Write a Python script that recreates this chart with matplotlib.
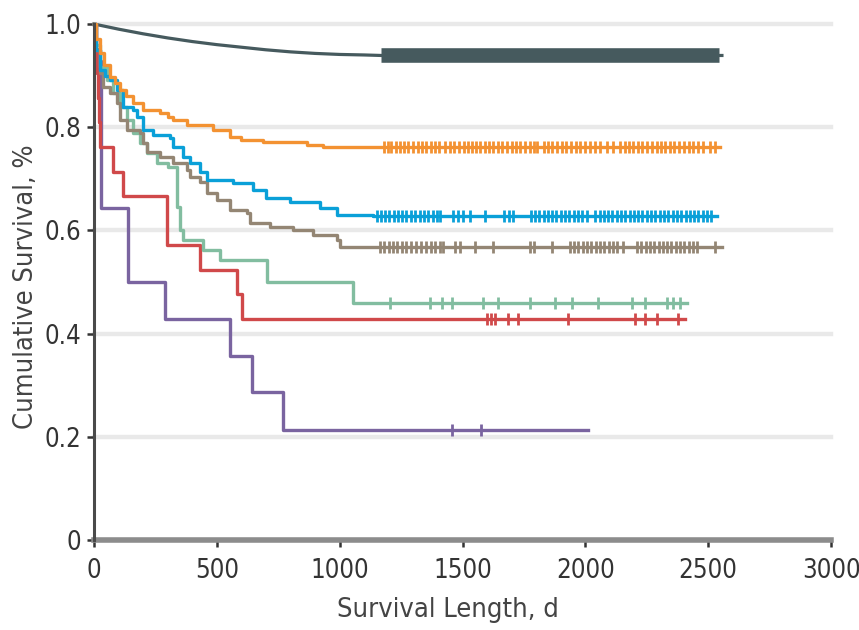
import numpy as np
import matplotlib
matplotlib.use("Agg")
import matplotlib.pyplot as plt
from matplotlib import font_manager as fm

# the reference uses a narrow sans face; pick whatever condensed regular face is installed
narrow = None
for f in fm.fontManager.ttflist:
    name = f.name + ' ' + str(f.stretch)
    if f.style == 'normal' and f.weight in (400, 'normal', 'regular') and \
            ('Narrow' in name or 'ondensed' in name or f.stretch in ('condensed', 'semi-condensed')):
        narrow = f
        break
if narrow is not None:
    fp = fm.FontProperties(fname=narrow.fname)
else:
    fp = fm.FontProperties(family='DejaVu Sans')

# Kaplan-Meier curves: drop times (days) and survival after the drop
slate_t = [0, 50, 100, 200, 300, 400, 500, 600, 700, 800, 900, 1000, 1100, 1170, 2556]
slate_s = [1.0, 0.995, 0.99, 0.981, 0.973, 0.966, 0.960, 0.955, 0.950, 0.946, 0.943, 0.941, 0.940, 0.939, 0.939]
slate_cens = (1170, 2545)   # solid band of censor marks

orange_t = [10, 24, 40, 65, 85, 106, 130, 159, 200, 269, 300, 322, 378, 485, 553, 600, 688, 866, 932]
orange_s = [0.97, 0.944, 0.92, 0.897, 0.885, 0.872, 0.86, 0.847, 0.833, 0.827, 0.82, 0.814, 0.804,
            0.795, 0.781, 0.776, 0.771, 0.765, 0.762]
orange_end = 2548
orange_cens = [1180, 1195, 1210, 1228, 1245, 1262, 1280, 1300, 1318, 1335, 1352, 1370, 1390, 1405,
               1430, 1448, 1465, 1485, 1505, 1522, 1540, 1555, 1572, 1590, 1608, 1625, 1645, 1662,
               1680, 1700, 1718, 1735, 1755, 1775, 1790, 1802, 1830, 1848, 1865, 1885, 1905, 1922,
               1940, 1960, 1980, 2000, 2020, 2040, 2058, 2088, 2114, 2142, 2160, 2178, 2195, 2215,
               2232, 2250, 2270, 2290, 2308, 2325, 2345, 2362, 2380, 2400, 2420, 2440, 2460, 2480,
               2508, 2528]

blue_t = [10, 24, 45, 65, 93, 118, 159, 175, 200, 240, 309, 322, 362, 391, 431, 460, 566, 648, 700,
          798, 920, 989, 1136]
blue_s = [0.95, 0.911, 0.90, 0.891, 0.872, 0.839, 0.833, 0.820, 0.795, 0.785, 0.779, 0.762, 0.742,
          0.730, 0.713, 0.698, 0.692, 0.678, 0.663, 0.655, 0.643, 0.630, 0.627]
blue_end = 2535
blue_cens = [1152, 1168, 1185, 1202, 1220, 1238, 1255, 1272, 1290, 1308, 1325, 1342, 1360, 1378,
             1395, 1408, 1462, 1482, 1503, 1530, 1591, 1668, 1688, 1705, 1778, 1795, 1812, 1830,
             1848, 1865, 1882, 1900, 1918, 1935, 1952, 1970, 1988, 2005, 2040, 2058, 2075, 2092,
             2110, 2128, 2145, 2162, 2180, 2198, 2215, 2232, 2250, 2268, 2285, 2302, 2320, 2338,
             2355, 2372, 2390, 2408, 2425, 2442, 2460, 2478, 2495, 2512]

brown_t = [5, 24, 37, 65, 93, 106, 134, 187, 200, 216, 269, 322, 378, 391, 431, 460, 501, 553, 623,
           635, 716, 810, 892, 989, 1001]
brown_s = [0.95, 0.905, 0.878, 0.866, 0.847, 0.814, 0.795, 0.788, 0.769, 0.752, 0.742, 0.730, 0.717,
           0.704, 0.694, 0.672, 0.659, 0.640, 0.634, 0.614, 0.607, 0.601, 0.591, 0.581, 0.568]
brown_end = 2556
brown_cens = [1165, 1182, 1200, 1218, 1235, 1252, 1270, 1290, 1310, 1330, 1350, 1370, 1390, 1408,
              1422, 1470, 1490, 1551, 1624, 1775, 1790, 1864, 1938, 1955, 1972, 1990, 2008, 2025,
              2042, 2060, 2078, 2095, 2112, 2130, 2152, 2210, 2228, 2245, 2262, 2280, 2298, 2315,
              2332, 2350, 2368, 2385, 2402, 2420, 2438, 2454, 2527]

green_t = [5, 24, 53, 77, 106, 134, 159, 187, 216, 256, 300, 338, 350, 362, 444, 513, 704, 1054]
green_s = [0.96, 0.917, 0.891, 0.866, 0.839, 0.814, 0.788, 0.769, 0.75, 0.730, 0.723, 0.646, 0.601,
           0.581, 0.562, 0.543, 0.500, 0.459]
green_end = 2413
green_cens = [1205, 1368, 1416, 1457, 1584, 1645, 1775, 1877, 1946, 2052, 2189, 2244, 2332, 2357, 2385]

red_t = [8, 12, 16, 20, 24, 77, 120, 297, 431, 582, 602]
red_s = [0.952, 0.905, 0.857, 0.81, 0.762, 0.714, 0.667, 0.571, 0.524, 0.476, 0.429]
red_end = 2405
red_cens = [1600, 1615, 1632, 1686, 1726, 1930, 2202, 2244, 2291, 2377]

purple_t = [8, 28, 139, 289, 553, 642, 770]
purple_s = [0.929, 0.643, 0.5, 0.429, 0.357, 0.286, 0.214]
purple_end = 2010
purple_cens = [1457, 1575]

curves = [
    (orange_t, orange_s, orange_end, orange_cens, '#f39232'),
    (blue_t, blue_s, blue_end, blue_cens, '#0aa0d8'),
    (brown_t, brown_s, brown_end, brown_cens, '#948674'),
    (green_t, green_s, green_end, green_cens, '#82bda0'),
    (red_t, red_s, red_end, red_cens, '#d0494a'),
    (purple_t, purple_s, purple_end, purple_cens, '#7a64a0'),
]

fig = plt.figure(figsize=(8.59, 6.3), dpi=100)
ax = fig.add_axes([94 / 859, 1 - 540 / 630, (831 - 94) / 859, (540 - 24) / 630])

for y in [0.2, 0.4, 0.6, 0.8, 1.0]:
    ax.axhline(y, color='#e9e9e9', lw=3.2, zorder=0, clip_on=False)

# smooth top curve and its dense censoring band
ax.plot(slate_t, slate_s, color='#465a5e', lw=2.3, zorder=3, clip_on=False)
ax.plot(slate_cens, [slate_s[-1]] * 2, color='#465a5e', lw=10.5, solid_capstyle='butt', zorder=3)

for t, s, end, cens, col in curves[::-1]:
    tt = np.r_[0, t, end]
    ss = np.r_[1.0, s, s[-1]]
    ax.step(tt, ss, where='post', color=col, lw=2.4, zorder=3, clip_on=False)
    idx = np.searchsorted(tt, cens, side='right') - 1
    ax.plot(cens, ss[idx], ls='none', marker='|', ms=8, mew=2.0, color=col, zorder=4)

ax.set_xlim(0, 3000)
ax.set_ylim(0, 1.0)
ax.set_xticks(range(0, 3001, 500))
ax.set_yticks([0, 0.2, 0.4, 0.6, 0.8, 1.0])
ax.set_yticklabels(['0', '0.2', '0.4', '0.6', '0.8', '1.0'])

for side in ['top', 'right']:
    ax.spines[side].set_visible(False)
ax.spines['left'].set_color('#4a4a4a')
ax.spines['left'].set_linewidth(2.2)
ax.spines['bottom'].set_color('#8c8c8c')
ax.spines['bottom'].set_linewidth(4)
ax.spines['left'].set_zorder(5)

ax.tick_params(axis='both', colors='#333333', length=5, width=1.8)
ax.tick_params(axis='y', pad=4)
ax.tick_params(axis='x', pad=8)
for lab in ax.get_xticklabels() + ax.get_yticklabels():
    lab.set_fontproperties(fp)
    lab.set_fontsize(18.5)

ax.set_xlabel('Survival Length, d', fontproperties=fp, fontsize=19.5, color='#444444')
ax.set_ylabel('Cumulative Survival, %', fontproperties=fp, fontsize=19.5, color='#444444')
ax.xaxis.set_label_coords((448 - 94) / 737, -0.11)
ax.yaxis.set_label_coords(-0.074, 0.49)

fig.savefig('out.png', dpi=100)
